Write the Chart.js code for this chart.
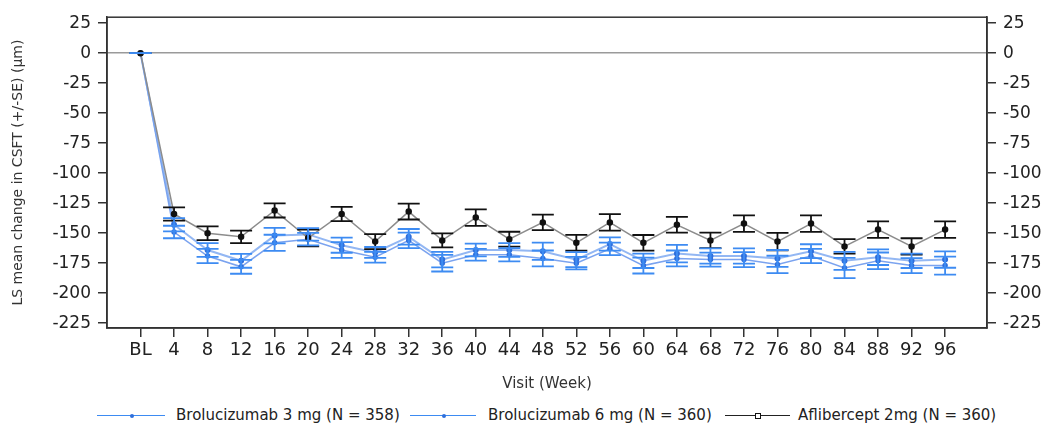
<!DOCTYPE html>
<html lang="en">
  <head>
    <meta charset="UTF-8" />
    <script src="https://cdn.jsdelivr.net/npm/chart.js@4.4.0/dist/chart.umd.min.js"></script>
    <title>CSFT change</title>
    <style>
      body { margin: 0; background: #fff; }
      #wrap { position: relative; width: 1052px; height: 423px; }
      #legend { position: absolute; left: 0; top: 404px; width: 1052px; height: 19px;
                font: 15px "DejaVu Sans"; color: #222; }
      .ln { position: absolute; top: 11px; height: 0; border-top: 1.5px solid; }
      .mk { position: absolute; }
      .tx { position: absolute; top: 3px; line-height: 17px; white-space: nowrap; }
    </style>
  </head>
  <body>
    <div id="wrap">
      <canvas id="myChart" width="1052" height="400"></canvas>
      <div id="legend">
        <div class="ln" style="left:97px;width:68px;border-color:#3d8bf2"></div>
        <div class="mk" style="left:130px;top:10px;width:4px;height:4px;border-radius:2px;background:#2f6fdc"></div>
        <span class="tx" style="left:176px">Brolucizumab 3 mg (N = 358)</span>
        <div class="ln" style="left:410px;width:66px;border-color:#3d8bf2"></div>
        <div class="mk" style="left:442px;top:10px;width:4px;height:4px;border-radius:2px;background:#2f6fdc"></div>
        <span class="tx" style="left:488px">Brolucizumab 6 mg (N = 360)</span>
        <div class="ln" style="left:725px;width:65px;border-color:#222"></div>
        <div class="mk" style="left:755px;top:9px;width:4px;height:4px;border:1px solid #111;background:#fff"></div>
        <span class="tx" style="left:798px">Aflibercept 2mg (N = 360)</span>
      </div>
    </div>
    <script>
      const visits = ["BL", "4", "8", "12", "16", "20", "24", "28", "32", "36", "40", "44", "48",
                      "52", "56", "60", "64", "68", "72", "76", "80", "84", "88", "92", "96"];
      const yTicks = [25, 0, -25, -50, -75, -100, -125, -150, -175, -200, -225];

      const bro3 = [0, -143, -164, -173, -152, -151, -160, -166, -153, -172, -164, -164, -165,
                    -172, -159, -173, -167, -169, -169, -171, -165, -173, -170, -173, -172];
      const bro3se = [0, 5.5, 5.8, 5.8, 6.5, 5.2, 6.3, 4.5, 6.5, 6.5, 5.3, 5.8, 7.2,
                      6.3, 5.5, 6, 7.3, 6.3, 6.3, 7, 5.8, 7.5, 6.5, 6, 6.8];
      const bro6 = [0, -149, -169, -178, -158, -155, -164, -170, -156, -175, -168, -168, -171,
                    -175, -163, -177, -171, -172, -172, -176, -169, -179, -173, -177, -177];
      const bro6se = [0, 5.2, 6, 5.8, 6.7, 5.2, 6.5, 4.5, 6.5, 6.9, 4.9, 5.5, 6.6,
                      5.2, 5.2, 6.6, 6.6, 5.8, 6.2, 7.2, 6, 8.5, 6.9, 6.3, 7.5];
      const afl = [0, -134, -150, -153, -131, -154, -134, -157, -132, -156, -137, -155, -141,
                   -158, -141, -158, -143, -156, -142, -157, -142, -161, -147, -161, -147];
      const aflse = [0, 5.5, 5.7, 5.2, 5.9, 6.9, 5.9, 6.2, 6.6, 5.8, 6.9, 6.2, 6.5,
                     6.6, 6.9, 6.5, 6.6, 6.5, 6.9, 7.2, 6.9, 6.1, 6.9, 6.8, 6.9];

      const pts = (vals) => vals.map((v, i) => ({ x: i, y: v }));

      // draws the +/-SE bars with caps
      const errorBars = {
        id: "errorBars",
        afterDatasetsDraw(chart) {
          const ctx = chart.ctx;
          const y = chart.scales.y;
          chart.data.datasets.forEach((ds, di) => {
            const meta = chart.getDatasetMeta(di);
            ctx.save();
            ctx.strokeStyle = ds.barColor;
            ctx.lineWidth = 1.8;
            meta.data.forEach((pt, i) => {
              const v = ds.data[i].y;
              const e = ds.errors[i];
              const t = y.getPixelForValue(v + e);
              const b = y.getPixelForValue(v - e);
              ctx.beginPath();
              ctx.moveTo(pt.x, t); ctx.lineTo(pt.x, b);
              ctx.moveTo(pt.x - 11, t); ctx.lineTo(pt.x + 11, t);
              ctx.moveTo(pt.x - 11, b); ctx.lineTo(pt.x + 11, b);
              ctx.stroke();
            });
            ctx.restore();
          });
        },
      };

      const frame = {
        id: "frame",
        afterDraw(chart) {
          const { ctx, chartArea: a } = chart;
          ctx.save();
          ctx.strokeStyle = "#333";
          ctx.lineWidth = 1.5;
          ctx.strokeRect(a.left, a.top, a.right - a.left, a.bottom - a.top);
          ctx.restore();
        },
      };

      const setYTicks = (s) => { s.ticks = yTicks.map((v) => ({ value: v })); };
      const tickFont = { family: "DejaVu Sans", size: 17 };

      let ctx = document.getElementById("myChart").getContext("2d");
      let myChart = new Chart(ctx, {
        type: "line",
        data: {
          datasets: [
            {
              label: "Aflibercept 2mg (N = 360)",
              data: pts(afl),
              errors: aflse,
              barColor: "#111",
              borderColor: "#8c8c8c",
              borderWidth: 1.5,
              pointRadius: 2.5,
              pointBackgroundColor: "#111",
              pointBorderColor: "#111",
            },
            {
              label: "Brolucizumab 3 mg (N = 358)",
              data: pts(bro3),
              errors: bro3se,
              barColor: "#3d8bf2",
              borderColor: "rgba(120,165,240,0.8)",
              borderWidth: 2,
              pointRadius: 2,
              pointBackgroundColor: "#2f6fdc",
              pointBorderColor: "#2f6fdc",
            },
            {
              label: "Brolucizumab 6 mg (N = 360)",
              data: pts(bro6),
              errors: bro6se,
              barColor: "#3d8bf2",
              borderColor: "rgba(90,140,235,0.8)",
              borderWidth: 1.5,
              pointRadius: 2,
              pointBackgroundColor: "#2f6fdc",
              pointBorderColor: "#2f6fdc",
            },
          ],
        },
        options: {
          responsive: false,
          animation: false,
          layout: { padding: { top: 15, left: 0, right: 0, bottom: 0 } },
          plugins: { legend: { display: false }, tooltip: { enabled: false } },
          scales: {
            x: {
              type: "linear",
              min: -1,
              max: 25.25,
              afterBuildTicks: (s) => { s.ticks = visits.map((_, i) => ({ value: i })); },
              afterFit: (s) => { s.height = 72; },
              ticks: {
                callback: (v) => visits[v],
                autoSkip: false,
                maxRotation: 0,
                font: { family: "DejaVu Sans", size: 18 },
                color: "#222",
                padding: 3,
              },
              grid: { drawOnChartArea: false, tickLength: 9, tickColor: "#333", lineWidth: 1.5 },
              border: { color: "#333", width: 1.5 },
              title: {
                display: true,
                text: "Visit (Week)",
                font: { family: "DejaVu Sans", size: 15 },
                color: "#333",
                padding: { top: 0, bottom: 7 },
              },
            },
            y: {
              position: "left",
              min: -229,
              max: 30,
              afterBuildTicks: setYTicks,
              afterFit: (s) => { s.width = 107; },
              ticks: { font: tickFont, color: "#222", padding: 7 },
              grid: {
                color: (c) => (c.tick && c.tick.value === 0 ? "#9a9a9a" : "rgba(0,0,0,0)"),
                lineWidth: 1.5,
                tickLength: 9,
                tickColor: "#333",
              },
              border: { color: "#333", width: 1.5 },
              title: {
                display: true,
                text: "LS mean change in CSFT (+/-SE) (µm)",
                font: { family: "DejaVu Sans", size: 14 },
                color: "#333",
                padding: { top: 10, bottom: 0 },
              },
            },
            y2: {
              position: "right",
              min: -229,
              max: 30,
              afterBuildTicks: setYTicks,
              afterFit: (s) => { s.width = 65; },
              ticks: { font: tickFont, color: "#222", padding: 7 },
              grid: { drawOnChartArea: false, tickLength: 9, tickColor: "#333", lineWidth: 1.5 },
              border: { color: "#333", width: 1.5 },
            },
          },
        },
        plugins: [errorBars, frame],
      });
    </script>
  </body>
</html>
